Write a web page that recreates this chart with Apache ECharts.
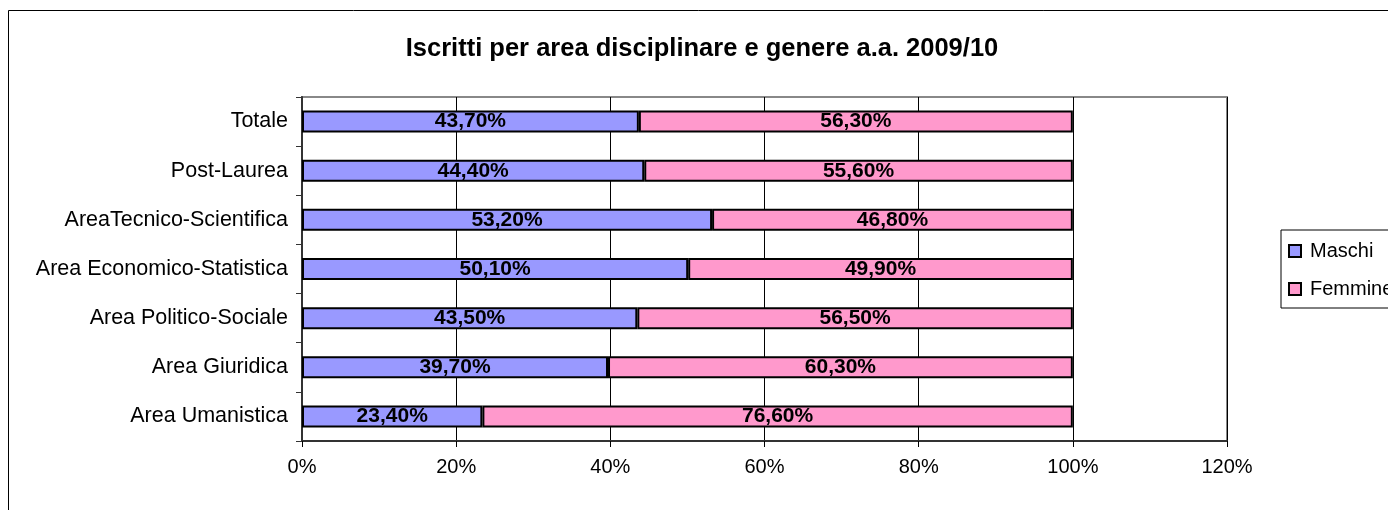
<!DOCTYPE html>
<html>
<head>
<meta charset="utf-8">
<script src="https://cdn.jsdelivr.net/npm/echarts@6/dist/echarts.min.js"></script>
<style>
  html, body { margin: 0; padding: 0; background: #fff; }
  #main { width: 1388px; height: 510px; }
</style>
</head>
<body>
<div id="main"></div>
<script>
// dati (dal basso verso l'alto, come l'asse categorie di echarts)
const categories = ['Area Umanistica', 'Area Giuridica', 'Area Politico-Sociale', 'Area Economico-Statistica', 'AreaTecnico-Scientifica', 'Post-Laurea', 'Totale'];
const maschi = [23.4, 39.7, 43.5, 50.1, 53.2, 44.4, 43.7];
const femmine = [76.6, 60.3, 56.5, 49.9, 46.8, 55.6, 56.3];
const xTicks = [0, 20, 40, 60, 80, 100, 120];

const font = 'Liberation Sans, Arial, sans-serif';
let myChart = echarts.init(document.getElementById('main'));

function pct(p) {
    return p.value.toFixed(2).replace('.', ',') + '%';
}

let option = {
    animation: false,
    color: ['#9999FF', '#FF99CC'],
    title: {
        text: 'Iscritti per area disciplinare e genere a.a. 2009/10',
        left: 697,
        textAlign: 'center',
        top: 31,
        textStyle: {
            fontFamily: font,
            fontSize: 25.5,
            fontWeight: 'bold',
            color: '#000'
        }
    },
    graphic: [{
        type: 'rect',
        shape: { x: 8.5, y: 10.5, width: 1400, height: 520 },
        style: { fill: 'none', stroke: '#000', lineWidth: 1 }
    }],
    legend: {
        orient: 'vertical',
        left: 1281,
        top: 230,
        padding: [11, 10, 9, 7],
        itemWidth: 12,
        itemHeight: 12,
        itemGap: 18,
        icon: 'rect',
        borderColor: '#000',
        borderWidth: 1,
        backgroundColor: '#fff',
        textStyle: {
            fontFamily: font,
            fontSize: 20,
            color: '#000',
            padding: [0, 0, 0, 4]
        },
        data: ['Maschi', 'Femmine']
    },
    grid: {
        left: 302,
        right: 161,
        top: 97,
        bottom: 69,
        show: true,
        borderColor: '#888',
        borderWidth: 2
    },
    xAxis: {
        type: 'value',
        min: xTicks[0],
        max: xTicks[xTicks.length - 1],
        interval: 20,
        axisLine: { show: true, lineStyle: { color: '#333', width: 2 } },
        axisTick: { show: true, length: 6, lineStyle: { color: '#000' } },
        axisLabel: {
            margin: 16,
            fontFamily: font,
            fontSize: 20,
            color: '#000',
            formatter: '{value}%'
        },
        splitLine: { show: true, lineStyle: { color: '#000', width: 1 } }
    },
    yAxis: {
        type: 'category',
        data: categories,
        axisLine: { show: true, lineStyle: { color: '#333', width: 2 } },
        axisTick: { show: true, length: 6, lineStyle: { color: '#333' } },
        axisLabel: {
            margin: 14,
            fontFamily: font,
            fontSize: 21.5,
            color: '#000'
        },
        splitLine: { show: false }
    },
    series: [{
        name: 'Maschi',
        type: 'bar',
        stack: 'tot',
        data: maschi,
        barWidth: 22,
        itemStyle: { borderColor: '#000', borderWidth: 2 },
        label: {
            show: true,
            position: 'inside',
            formatter: pct,
            fontFamily: font,
            fontSize: 21,
            fontWeight: 'bold',
            color: '#000'
        }
    }, {
        name: 'Femmine',
        type: 'bar',
        stack: 'tot',
        data: femmine,
        barWidth: 22,
        itemStyle: { borderColor: '#000', borderWidth: 2 },
        label: {
            show: true,
            position: 'inside',
            formatter: pct,
            fontFamily: font,
            fontSize: 21,
            fontWeight: 'bold',
            color: '#000'
        }
    }]
};
myChart.setOption(option);
</script>
</body>
</html>
